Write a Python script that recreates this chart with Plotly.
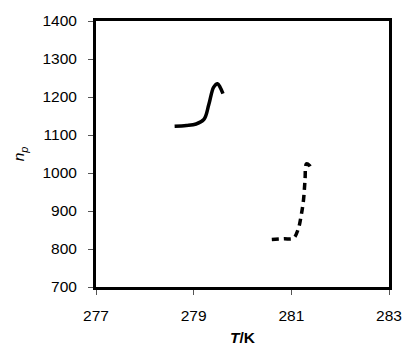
import plotly.graph_objects as go

T_solid = [278.61, 278.85, 279.05, 279.21, 279.31, 279.41, 279.49, 279.54, 279.60]
n_solid = [1123, 1125, 1129, 1141, 1180, 1226, 1235, 1226, 1209]

T_dash = [280.60, 280.85, 281.04, 281.14, 281.20, 281.25, 281.28, 281.31, 281.37, 281.42]
n_dash = [825, 827, 828, 852, 887, 930, 981, 1024, 1020, 1007]

x_ticks = [277, 279, 281, 283]
y_ticks = [700, 800, 900, 1000, 1100, 1200, 1300, 1400]

fig = go.Figure()
fig.add_trace(go.Scatter(x=T_solid, y=n_solid, mode="lines",
                         line=dict(color="black", width=3.5, shape="spline"),
                         showlegend=False))
fig.add_trace(go.Scatter(x=T_dash, y=n_dash, mode="lines",
                         line=dict(color="black", width=3.5, dash="7px,5px", shape="spline"),
                         showlegend=False))

font = dict(family="Liberation Sans, Arial, sans-serif", size=15.5, color="black")
fig.update_layout(
    width=414, height=356,
    margin=dict(l=96, r=17, t=18, b=66),
    plot_bgcolor="white", paper_bgcolor="white",
    font=font,
    xaxis=dict(range=[277, 283], tickvals=x_ticks, showgrid=False, zeroline=False,
               showline=True, linecolor="black", linewidth=3, mirror=True,
               ticks="outside", ticklen=5, tickcolor="#555", tickwidth=1,
               ticklabelstandoff=7,
               title=dict(text="<b><i>T</i>/K</b>", standoff=10, font=font)),
    yaxis=dict(range=[700, 1400], tickvals=y_ticks, showgrid=False, zeroline=False,
               showline=True, linecolor="black", linewidth=3, mirror=True,
               ticks="outside", ticklen=5, tickcolor="#555", tickwidth=1,
               ticklabelstandoff=8,
               title=dict(text="<i>n<sub>p</sub></i>", standoff=14, font=font)),
)
fig.write_html(
    "out.html",
    config={"displayModeBar": False},
    post_script="document.body.style.margin='0';document.body.style.overflow='hidden';",
)
